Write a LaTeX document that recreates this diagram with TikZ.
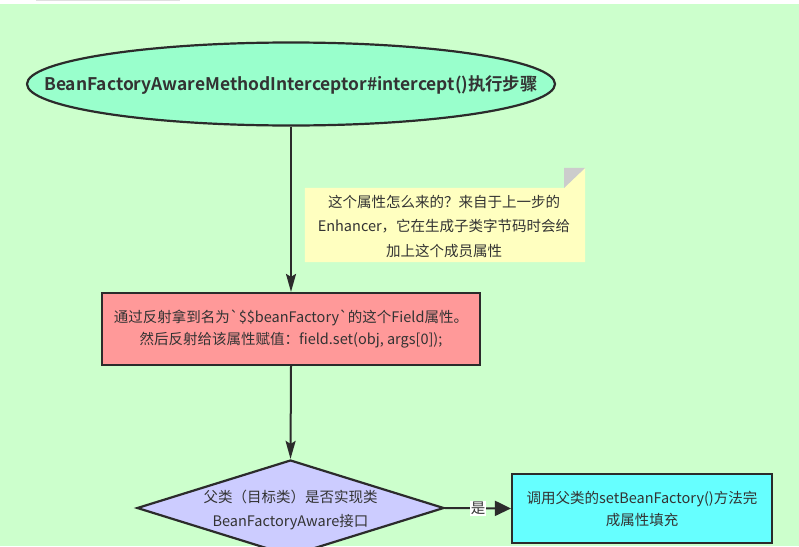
\documentclass[tikz,border=0pt]{standalone}
\usepackage{fontspec}
\setmainfont{Noto Sans CJK SC}[Ligatures=TeXOff]
\newfontfamily\cjkbold{Noto Sans CJK SC Bold}
\usetikzlibrary{arrows.meta,shapes.geometric}
\definecolor{bggreen}{HTML}{CCFFCC}
\definecolor{ellfill}{HTML}{99FFCC}
\definecolor{notefill}{HTML}{FFFFC0}
\definecolor{redfill}{HTML}{FF9999}
\definecolor{diafill}{HTML}{CCCCFF}
\definecolor{cyanfill}{HTML}{66FFFF}
\definecolor{linec}{HTML}{2B2B2B}
\definecolor{txt}{HTML}{333333}
\tikzset{
  flowline/.style={draw=linec, line width=2pt},
  boxstyle/.style={draw=linec, line width=2.2pt, rectangle, align=center, text=txt, font=\fontsize{14.5}{22}\selectfont, inner sep=0pt},
  plaintext/.style={align=center, text=txt, font=\fontsize{14.5}{24.5}\selectfont, inner sep=0pt},
  downarrow/.style={flowline, -{Stealth[length=18pt,width=10pt,inset=3pt]}},
  rightarrow/.style={flowline, -{Triangle[length=16pt,width=15pt]}},
}
\begin{document}
\begin{tikzpicture}[x=1pt,y=-1pt]
\useasboundingbox (0,0) rectangle (799,546);
\clip (0,0) rectangle (799,546);
\fill[bggreen] (0,0) rectangle (799,546);
\fill[white] (0,0) rectangle (799,4);
\fill[gray!25] (36,0) rectangle (180,1.2);

\node[ellipse, draw=linec, line width=2.2pt, fill=ellfill, minimum width=528pt, minimum height=83pt, inner sep=0pt] (start) at (291,84) {};
\node[text=txt, inner sep=0pt, font=\cjkbold\fontsize{17.4}{20}\selectfont] (starttext) at (291,85) {BeanFactoryAwareMethodInterceptor\#intercept()执行步骤};

\node[boxstyle, fill=redfill, minimum width=378pt, minimum height=72pt] (reflect) at (291,329) {通过反射拿到名为`\$\$beanFactory`的这个Field属性。\\然后反射给该属性赋值：field.set(obj, args[0]);};

\node[diamond, draw=linec, line width=2.2pt, fill=diafill, minimum width=307pt, minimum height=96pt, inner sep=0pt, aspect=3.2] (check) at (290.5,508) {};
\node[plaintext] (checktext) at (290.5,510) {父类（目标类）是否实现类\\BeanFactoryAware接口};

\node[boxstyle, fill=cyanfill, minimum width=260pt, minimum height=69pt] (call) at (642,508.5) {调用父类的setBeanFactory()方法完\\成属性填充};

% note
\node[minimum width=280pt, minimum height=74pt, inner sep=0pt] (note) at (445,225) {};
\fill[notefill] (note.north west) -- ([xshift=-21pt]note.north east) -- ([yshift=20pt]note.north east) -- (note.south east) -- (note.south west) -- cycle;
\fill[gray!40] ([xshift=-21pt]note.north east) -- ([xshift=-21pt,yshift=20pt]note.north east) -- ([yshift=20pt]note.north east) -- cycle;
\node[plaintext] (notetext) at (444,226) {这个属性怎么来的？来自于上一步的\\Enhancer，它在生成子类字节码时会给\\加上这个成员属性};

\draw[downarrow] (start.south) -- (reflect.north);
\draw[downarrow] (reflect.south) -- (check.north);
\draw[rightarrow] (check.east) -- node[fill=white, inner sep=1pt, text=txt, font=\fontsize{14.5}{16}\selectfont] (yes) {是} (call.west);
\end{tikzpicture}
\end{document}
